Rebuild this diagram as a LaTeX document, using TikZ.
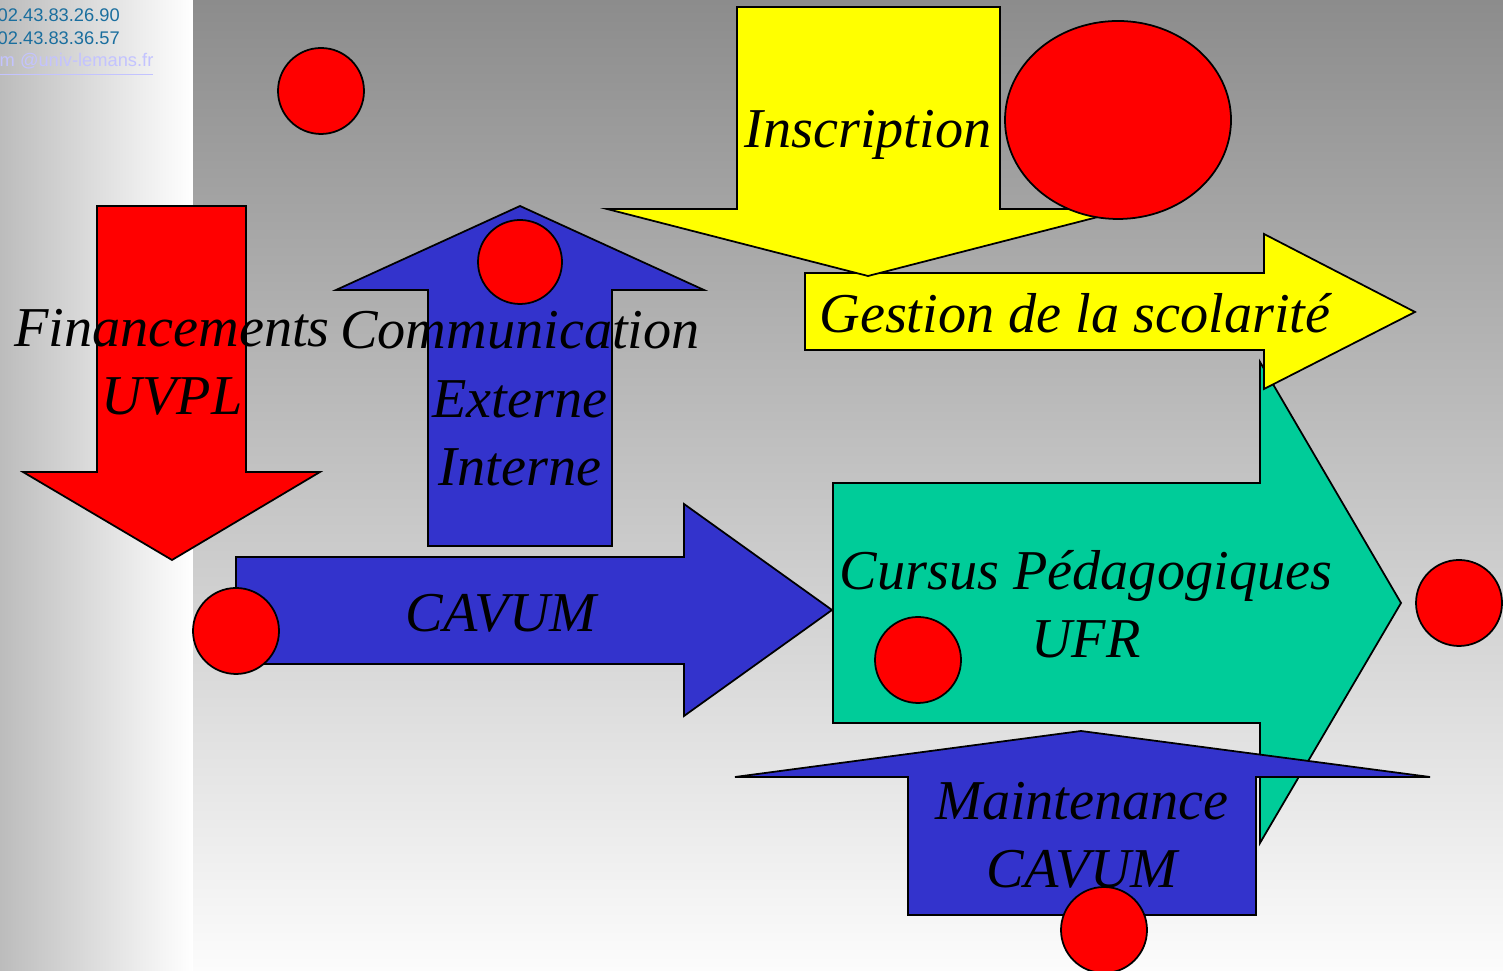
\documentclass[tikz,border=0pt]{standalone}
\usepackage{fontspec}
\setmainfont{Liberation Serif}
\newfontfamily\arialfont{Liberation Sans}
\definecolor{rouge}{RGB}{255,0,0}
\definecolor{bleu}{RGB}{51,51,204}
\definecolor{jaune}{RGB}{255,255,0}
\definecolor{vert}{RGB}{0,204,153}
\definecolor{lien}{RGB}{26,110,158}
\definecolor{mauve}{RGB}{195,195,255}
\definecolor{fondhaut}{RGB}{140,140,140}
\definecolor{fondbas}{RGB}{252,252,252}
\definecolor{fondgauche}{RGB}{188,188,188}
\begin{document}
\begin{tikzpicture}[x=0.01cm,y=-0.01cm,line join=miter,
	fleche/.style={draw=black,line width=0.5pt},
	pastille/.style={draw=black,fill=rouge,line width=0.5pt},
	titre/.style={font=\fontsize{16}{19.5}\selectfont\itshape,align=center,inner sep=0pt,anchor=base},
	coord/.style={font=\arialfont\fontsize{5.2}{6}\selectfont,inner sep=0pt,anchor=base west}]
	\useasboundingbox (0,0) rectangle (1503,971);
	\shade[left color=fondgauche,right color=white] (0,0) rectangle (193,971);
	\shade[top color=fondhaut,bottom color=fondbas] (193,0) rectangle (1503,971);
	\node[coord,text=lien] (tel) at (-3,22) {02.43.83.26.90};
	\node[coord,text=lien] (fax) at (-3,45) {02.43.83.36.57};
	\node[coord,text=mauve] (mail) at (-1,67) {\underline{m @univ-lemans.fr}};
	% fleches
	\filldraw[fleche,fill=rouge] (97,206)--(246,206)--(246,472)--(320,472)--(172,560)--(23,472)--(97,472)--cycle;
	\filldraw[fleche,fill=bleu] (520,206)--(704,290)--(612,290)--(612,546)--(428,546)--(428,290)--(336,290)--cycle;
	\filldraw[fleche,fill=bleu] (236,557)--(684,557)--(684,504)--(832,610)--(684,716)--(684,664)--(236,664)--cycle;
	\filldraw[fleche,fill=vert] (833,483)--(1260,483)--(1260,362)--(1401,603)--(1260,843)--(1260,723)--(833,723)--cycle;
	\filldraw[fleche,fill=jaune] (805,273)--(1264,273)--(1264,234)--(1415,312)--(1264,389)--(1264,350)--(805,350)--cycle;
	\filldraw[fleche,fill=jaune] (737,7)--(1000,7)--(1000,209)--(1129,209)--(868,276)--(607,209)--(737,209)--cycle;
	\filldraw[fleche,fill=bleu] (1081,731)--(1430,777)--(1256,777)--(1256,915)--(908,915)--(908,777)--(735,777)--cycle;
	% pastilles
	\filldraw[pastille] (321,91) circle (43);
	\filldraw[pastille] (520,262) ellipse [x radius=42,y radius=42];
	\filldraw[pastille] (1118,120) ellipse [x radius=113,y radius=99];
	\filldraw[pastille] (236,631) circle (43);
	\filldraw[pastille] (918,660) circle (43);
	\filldraw[pastille] (1459,603) circle (43);
	\filldraw[pastille] (1104,930) circle (43);
	% textes
	\node[titre] (financements) at (172,415) {Financements\\UVPL};
	\node[titre] (communication) at (520,486) {Communication\\Externe\\Interne};
	\node[titre] (inscription) at (868,148) {Inscription};
	\node[titre] (gestion) at (1075,333) {Gestion de la scolarité};
	\node[titre] (cavum) at (501,632) {CAVUM};
	\node[titre] (cursus) at (1086,658) {Cursus Pédagogiques\\UFR};
	\node[titre] (maintenance) at (1082,888) {Maintenance\\CAVUM};
\end{tikzpicture}
\end{document}
